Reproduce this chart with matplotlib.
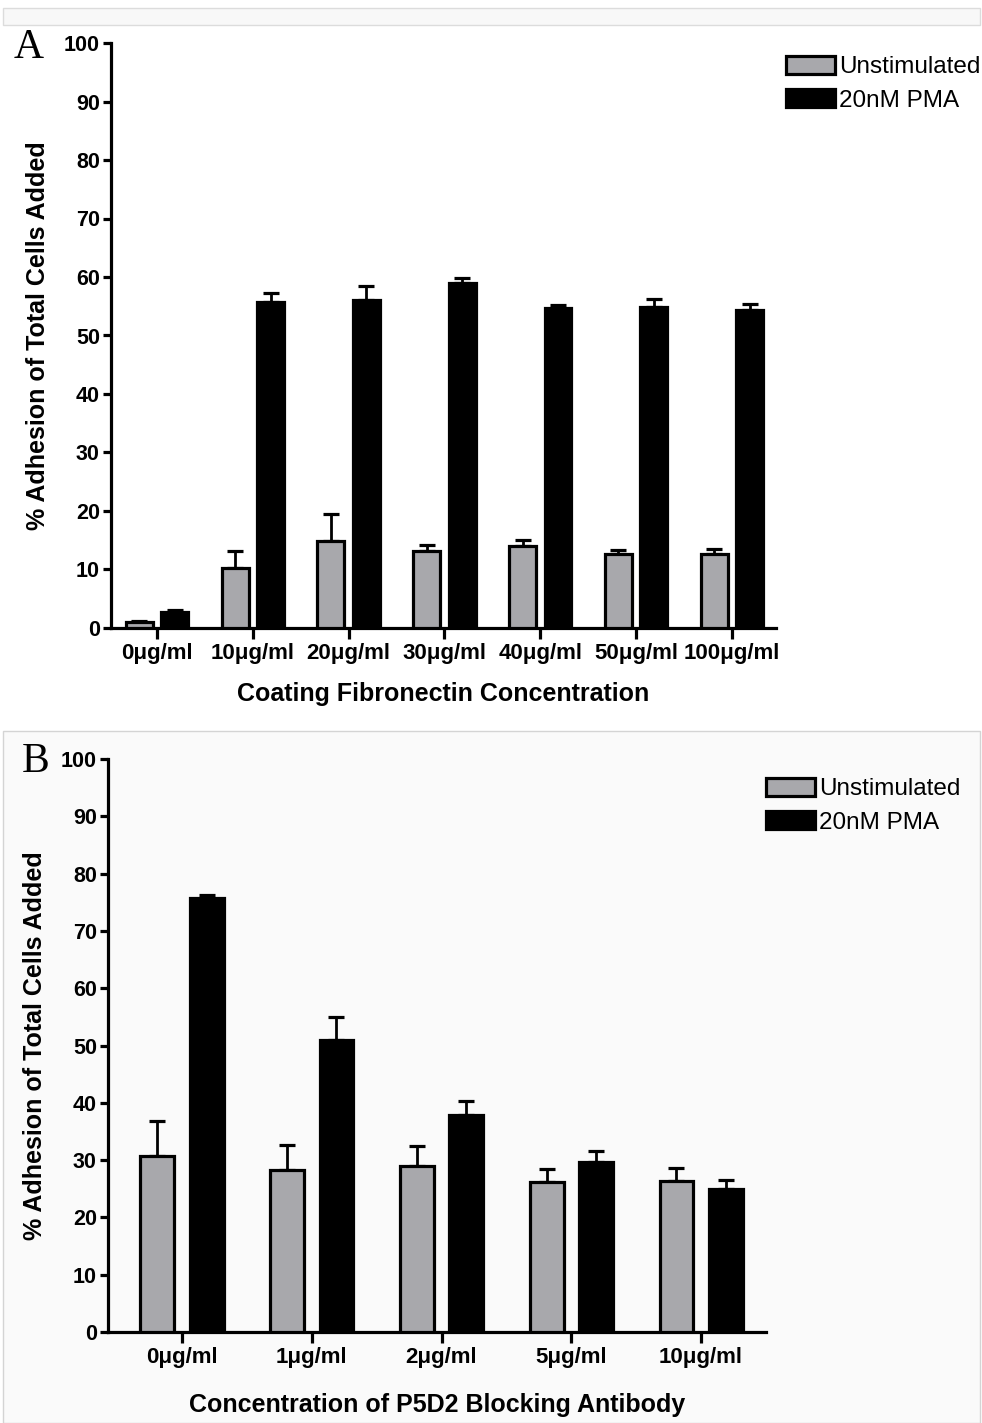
import numpy as np
import matplotlib
matplotlib.use('Agg')
import matplotlib.pyplot as plt
from matplotlib.patches import Rectangle, Patch

plt.rcParams['font.family'] = ['Liberation Sans', 'DejaVu Sans']

# Panel A: fibronectin coating
labels_a = ['0μg/ml', '10μg/ml', '20μg/ml', '30μg/ml', '40μg/ml', '50μg/ml', '100μg/ml']
unstim_a = [1.0, 10.3, 14.9, 13.1, 14.0, 12.6, 12.7]
unstim_a_err = [0.2, 2.9, 4.6, 1.1, 1.0, 0.8, 0.8]
pma_a = [2.7, 55.8, 56.0, 59.0, 54.7, 54.9, 54.3]
pma_a_err = [0.3, 1.5, 2.5, 0.8, 0.5, 1.3, 1.1]

# Panel B: P5D2 blocking antibody
labels_b = ['0μg/ml', '1μg/ml', '2μg/ml', '5μg/ml', '10μg/ml']
unstim_b = [30.8, 28.2, 29.0, 26.2, 26.4]
unstim_b_err = [6.1, 4.4, 3.4, 2.3, 2.3]
pma_b = [75.7, 50.9, 37.8, 29.7, 24.9]
pma_b_err = [0.5, 4.0, 2.5, 1.9, 1.6]

series_names = ['Unstimulated', '20nM PMA']
grey = '#a8a8ac'

W, H = 982, 1423
fig = plt.figure(figsize=(W / 100, H / 100), dpi=100)


def fx(px):
    return px / W


def fy(py):
    return 1 - py / H


# light panel backgrounds like the scanned figure
fig.patches.append(Rectangle((fx(3), fy(25)), fx(977), 17 / H, transform=fig.transFigure,
                             facecolor='#f8f8f8', edgecolor='#dcdcdc', lw=1, zorder=-5))
fig.patches.append(Rectangle((fx(3), fy(1423)), fx(977), 692 / H, transform=fig.transFigure,
                             facecolor='#fafafa', edgecolor='#d4d4d4', lw=1, zorder=-5))


def draw_panel(rect, labels, u, ue, p, pe, width, off, xlim, xlabel, xpad,
               letter, letter_pos, leg_pos):
    ax = fig.add_axes(rect)
    ax.set_zorder(2)
    ax.patch.set_alpha(0)
    x = np.arange(len(labels))
    ax.bar(x - off, u, width, color=grey, edgecolor='black', linewidth=2.3, zorder=3)
    ax.bar(x + off, p, width, color='black', edgecolor='black', linewidth=2.3, zorder=3)
    ax.errorbar(x - off, u, yerr=[np.zeros(len(u)), ue], fmt='none', ecolor='black',
                elinewidth=2, capsize=6, capthick=2.3, zorder=2)
    ax.errorbar(x + off, p, yerr=[np.zeros(len(p)), pe], fmt='none', ecolor='black',
                elinewidth=2, capsize=6, capthick=2.3, zorder=2)
    ax.set_xlim(*xlim)
    ax.set_ylim(0, 100)
    ax.set_yticks(np.arange(0, 101, 10))
    ax.set_xticks(x)
    ax.set_xticklabels(labels, fontsize=16, fontweight='bold')
    for t in ax.get_yticklabels():
        t.set_fontsize(15.5)
        t.set_fontweight('bold')
    for s in ['top', 'right']:
        ax.spines[s].set_visible(False)
    for s in ['left', 'bottom']:
        ax.spines[s].set_linewidth(2.3)
    ax.tick_params(axis='both', width=2.3, length=6, pad=2)
    ax.tick_params(axis='x', length=8, pad=3)
    ax.set_ylabel('% Adhesion of Total Cells Added', fontsize=18, fontweight='bold', labelpad=10)
    ax.set_xlabel(xlabel, fontsize=18, fontweight='bold', labelpad=xpad)
    fig.text(fx(letter_pos[0]), fy(letter_pos[1]), letter, fontsize=30,
             family='Liberation Serif', va='top', ha='left')
    handles = [Patch(facecolor=grey, edgecolor='black', linewidth=2.3),
               Patch(facecolor='black', edgecolor='black', linewidth=2.3)]
    fig.legend(handles, series_names, loc='upper left',
               bbox_to_anchor=(fx(leg_pos[0]), fy(leg_pos[1])), frameon=False,
               fontsize=17.5, handlelength=2.0, handleheight=0.75, handletextpad=0.2,
               borderpad=0, borderaxespad=0, labelspacing=0.45)
    return ax


draw_panel([fx(111), fy(628), fx(665), 585 / H], labels_a, unstim_a, unstim_a_err,
           pma_a, pma_a_err, 0.28, 0.185, (-0.48, 6.46),
           'Coating Fibronectin Concentration', 13, 'A', (14, 28), (786, 56))
draw_panel([fx(108), fy(1332), fx(658), 573 / H], labels_b, unstim_b, unstim_b_err,
           pma_b, pma_b_err, 0.26, 0.19, (-0.57, 4.5),
           'Concentration of P5D2 Blocking Antibody', 18, 'B', (22, 742), (766, 778))

fig.savefig('out.png', dpi=100)
